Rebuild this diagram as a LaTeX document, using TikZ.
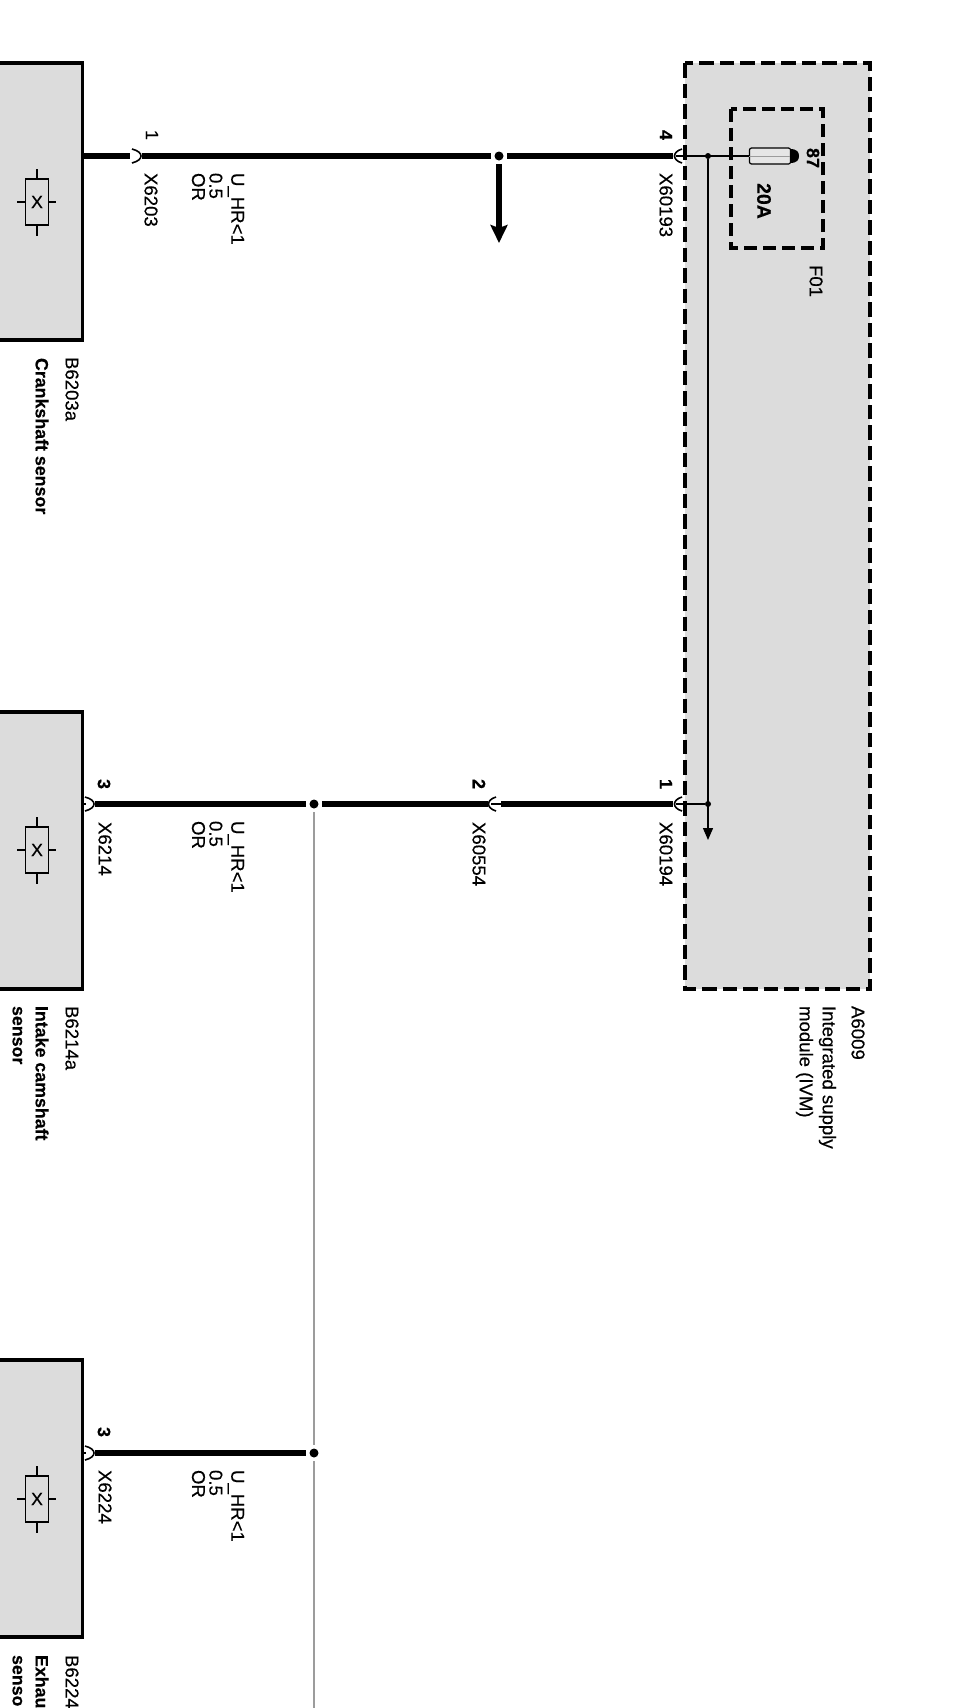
\documentclass[tikz,border=0pt]{standalone}
\usepackage{fontspec}
\setmainfont[FakeBold=0.35]{Liberation Sans}
\usetikzlibrary{arrows.meta,calc}
\definecolor{boxgray}{HTML}{DCDCDC}
\definecolor{wiregray}{HTML}{9C9C9C}
\tikzset{
  x=1pt,y=-1pt,
  lbl/.style={rotate=-90,anchor=west,inner sep=0pt,outer sep=0pt,font=\fontsize{18.6}{17.4}\selectfont,align=left},
  blbl/.style={lbl,font=\fontsize{17.8}{17}\selectfont\bfseries},
  num/.style={rotate=-90,anchor=center,inner sep=0pt,font=\fontsize{18}{17}\selectfont\bfseries},
  numthin/.style={rotate=-90,anchor=center,inner sep=0pt,font=\fontsize{18}{17}\selectfont},
  thickwire/.style={line width=6.6pt,black},
  thinwire/.style={line width=1.3pt,black},
  graywire/.style={line width=2pt,wiregray},
  outline/.style={line width=3.2pt,black,miter limit=10},
  module/.style={line width=3.6pt,black,dash pattern=on 14.5pt off 6pt,fill=boxgray},
  fusebox/.style={line width=3.3pt,black,dash pattern=on 13pt off 6pt},
  junction/.style={circle,fill=black,inner sep=0pt,minimum size=9pt,outer sep=3.5pt},
  smalljunction/.style={circle,fill=black,inner sep=0pt,minimum size=6pt},
  sensor/.style={draw=black,line width=1.3pt,inner sep=0pt,minimum width=23pt,minimum height=46pt,
     font=\fontsize{18}{18}\selectfont,fill=boxgray},
  pinline/.style={line width=1.6pt,black},
}
\newcommand{\pinright}[1]{\draw[pinline] ($(#1)+(-5,-7)$) .. controls ($(#1)+(7,-4)$) and ($(#1)+(7,4)$) .. ($(#1)+(-5,7)$);}
\newcommand{\pinleft}[1]{\draw[pinline] ($(#1)+(5,-7)$) .. controls ($(#1)+(-5,-4)$) and ($(#1)+(-5,4)$) .. ($(#1)+(5,7)$);}
\newcommand{\sensorsym}[2]{%
  \node[sensor] (#1) at (37,#2) {X};
  \draw[thinwire] (#1.north) -- ++(0,-9);
  \draw[thinwire] (#1.south) -- ++(0,10);
  \draw[thinwire] (#1.west) -- ++(-8,0);
  \draw[thinwire] (#1.east) -- ++(7,0);
}
\newcommand{\sensorbox}[2]{%
  \path[fill=boxgray] (0,#1) rectangle (82.5,#2);
  \draw[outline] (0,#1) -- (82.5,#1) -- (82.5,#2) -- (0,#2);
}
\begin{document}
\begin{tikzpicture}
\useasboundingbox (0,0) rectangle (955,1708);
\fill[white] (0,0) rectangle (955,1708);

% module A6009
\draw[module] (685,63) rectangle (870,989);
\draw[fusebox] (731,109) rectangle (823,248);

% sensor housings
\sensorbox{63}{340}
\sensorbox{712}{989}
\sensorbox{1360}{1637}
\sensorsym{s1}{202}
\sensorsym{s2}{850}
\sensorsym{s3}{1499}

% named points
\coordinate (b1) at (83,156);
\coordinate (b2) at (83,804);
\coordinate (b3) at (83,1453);
\coordinate (p6203) at (137,156);
\coordinate (p60193) at (677,156);
\coordinate (p6214) at (90,804);
\coordinate (p60554) at (491,804);
\coordinate (p60194) at (677,804);
\coordinate (p6224) at (90,1453);
\node[junction] (j1) at (499,156) {};
\node[junction] (j2) at (314,804) {};
\node[junction] (j3) at (314,1453) {};
\node[smalljunction] (j4) at (708,156) {};
\node[smalljunction] (j5) at (708,804) {};
\coordinate (a1) at (499,243);
\coordinate (a2) at (708,840);
\coordinate (g1) at (314,1708);

% fuse
\node[draw=black,line width=1.2pt,fill=boxgray!70!white,rounded corners=2pt,minimum width=41pt,minimum height=16pt,inner sep=0pt] (fuse) at (770,156) {};
\draw[line width=1pt,wiregray] (fuse.west) -- (fuse.east);
\fill[black] (790,149) .. controls (797,149) and (799,152) .. (799,156) .. controls (799,160) and (797,163) .. (790,163) -- cycle;

% wires
\draw[thickwire] (b1) -- (130,156);
\draw[thickwire] (141.5,156) -- (j1);
\draw[thickwire] (j1) -- (673,156);
\draw[thinwire] (676,156) -- (fuse.west);
\draw[thinwire,-{Triangle[length=12pt,width=10pt]}] (j4) -- (a2);
\draw[thinwire] (676,804) -- (j5);
\draw[line width=5.4pt,-{Stealth[length=18pt,width=17pt,inset=3pt]}] (j1) -- (a1);

\draw[thickwire] (95,804) -- (j2);
\draw[thickwire] (j2) -- (488,804);
\draw[thickwire] (501,804) -- (673,804);
\draw[thinwire] (491,804) -- (501,804);
\draw[thickwire] (95,1453) -- (j3);
\draw[thinwire] (b2) -- (86,804);
\draw[thinwire] (b3) -- (86,1453);
\draw[graywire] (j2) -- (j3);
\draw[graywire] (j3) -- (g1);

% pin marks
\pinright{p6203}
\pinright{p6214}
\pinright{p6224}
\pinleft{p60554}
\pinleft{p60193}
\pinleft{p60194}

% pin numbers
\node[numthin] (n1) at (152,135) {1};
\node[num] (n2) at (666,135) {4};
\node[num] (n3) at (104,784) {3};
\node[num] (n4) at (479,784) {2};
\node[num] (n5) at (666,784) {1};
\node[num] (n6) at (104,1432) {3};

% connector names
\node[lbl] (x1) at (151,173) {X6203};
\node[lbl] (x2) at (666,173) {X60193};
\node[lbl] (x3) at (105,822) {X6214};
\node[lbl] (x4) at (479,822) {X60554};
\node[lbl] (x5) at (666,822) {X60194};
\node[lbl] (x6) at (105,1470) {X6224};

% wire data
\node[lbl] (w1) at (218,173) {U\_HR<1\\[4.5pt]0.5\\OR};
\node[lbl] (w2) at (218,821) {U\_HR<1\\[4.5pt]0.5\\OR};
\node[lbl] (w3) at (218,1470) {U\_HR<1\\[4.5pt]0.5\\OR};

% fuse texts
\node[num] (f87) at (813,158) {87};
\node[num,font=\fontsize{19.5}{18}\selectfont\bfseries] (f20) at (764,201) {20A};
\node[lbl] (f01) at (816,265) {F01};

% component names
\node[lbl] (m1) at (858,1006) {A6009};
\node[lbl,font=\fontsize{18.6}{23}\selectfont] (m2) at (816,1006) {Integrated supply\\module (IVM)};
\node[lbl] (c1) at (72,357) {B6203a};
\node[blbl] (c2) at (42,358) {Crankshaft sensor};
\node[lbl] (c3) at (72,1006) {B6214a};
\node[blbl,font=\fontsize{17.8}{23}\selectfont\bfseries] (c4) at (30.5,1006) {Intake camshaft\\sensor};
\node[lbl] (c5) at (72,1655) {B6224};
\node[blbl,font=\fontsize{17.8}{23}\selectfont\bfseries] (c6) at (30.5,1655) {Exhau\\senso};
\end{tikzpicture}
\end{document}
